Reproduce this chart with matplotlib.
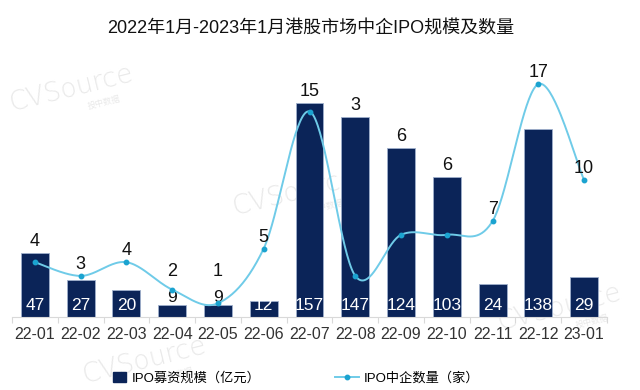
import numpy as np
import matplotlib
matplotlib.use("Agg")
import matplotlib.pyplot as plt
from matplotlib.lines import Line2D
from matplotlib.patches import Patch

plt.rcParams['font.family'] = ['Liberation Sans', 'Noto Sans CJK SC', 'DejaVu Sans']

categories = ["22-01", "22-02", "22-03", "22-04", "22-05", "22-06", "22-07",
              "22-08", "22-09", "22-10", "22-11", "22-12", "23-01"]
ipo_amount = [47, 27, 20, 9, 9, 12, 157, 147, 124, 103, 24, 138, 29]
ipo_count = [4, 3, 4, 2, 1, 5, 15, 3, 6, 6, 7, 17, 10]
title = "2022年1月-2023年1月港股市场中企IPO规模及数量"
bar_label = "IPO募资规模（亿元）"
line_label = "IPO中企数量（家）"

BAR_C = "#0b2458"
LINE_C = "#6fcbe8"
DOT_C = "#1ba3d0"

W, H = 640, 390
fig = plt.figure(figsize=(W / 100, H / 100), dpi=100)

left_px, right_px = 12, 607
base_px, top_px = 317, 60
ax = fig.add_axes([left_px / W, (H - base_px) / H, (right_px - left_px) / W, (base_px - top_px) / H])
ax.set_facecolor("none")
ax2 = ax.twinx()
ax2.set_facecolor("none")

n = len(categories)
x = np.arange(n)
bar_px = 1.363
line_px = 13.7
bar_ylim = (base_px - top_px) / bar_px
line_ylim = (base_px - top_px) / line_px
ax.set_xlim(-0.5, n - 0.5)
ax.set_ylim(0, bar_ylim)
ax2.set_ylim(0, line_ylim)

ax.bar(x, ipo_amount, width=0.61, color=BAR_C, edgecolor="#9fb0cc", linewidth=0.6, zorder=2)

# smooth (Catmull-Rom) curve through the count points
xs, ys = [], []
px = np.concatenate([[x[0]], x, [x[-1]]]).astype(float)
py = np.concatenate([[ipo_count[0]], ipo_count, [ipo_count[-1]]]).astype(float)
t = np.linspace(0, 1, 40)
for i in range(1, len(px) - 2):
    for arr, out in ((px, xs), (py, ys)):
        p0, p1, p2, p3 = arr[i - 1], arr[i], arr[i + 1], arr[i + 2]
        seg = 0.5 * ((2 * p1) + (-p0 + p2) * t + (2 * p0 - 5 * p1 + 4 * p2 - p3) * t ** 2
                     + (-p0 + 3 * p1 - 3 * p2 + p3) * t ** 3)
        out.extend(seg)
ax2.plot(xs, ys, color=LINE_C, lw=1.4, zorder=3)
ax2.plot(x, ipo_count, ls="none", marker="o", ms=3.2, color=DOT_C, zorder=4)

scale = line_ylim / bar_ylim
small = 10
# count labels above bar top / amount label / point, whichever is highest
for i, (c, a) in enumerate(zip(ipo_count, ipo_amount)):
    top = a * scale
    if a < small:
        top += 22 / line_px
    yv = max(c, top)
    ax2.annotate(str(c), (i, yv), xytext=(0, 5), textcoords="offset points",
                 ha="center", va="baseline", fontsize=13, color="#111111", zorder=5)

# amount labels
for i, a in enumerate(ipo_amount):
    if a < small:
        ax.annotate(str(a), (i, a), xytext=(0, 0), textcoords="offset points",
                    ha="center", va="bottom", fontsize=12.5, color="#111111", zorder=5)
    else:
        ax.annotate(str(a), (i, 0), xytext=(0, 8.5), textcoords="offset points",
                    ha="center", va="center", fontsize=12.5, color="white", zorder=5)

for a_ in (ax, ax2):
    for s in ("top", "right", "left"):
        a_.spines[s].set_visible(False)
    a_.set_yticks([])
ax2.spines["bottom"].set_visible(False)
ax.spines["bottom"].set_color("#d9d9d9")
ax.spines["bottom"].set_linewidth(0.8)
ax.set_xticks(x)
ax.set_xticklabels(categories, fontsize=11.5, color="#333333")
ax.tick_params(axis="x", which="major", length=0, pad=7)
ax.set_xticks(np.arange(-0.5, n, 1.0), minor=True)
ax.tick_params(axis="x", which="minor", length=4, color="#d9d9d9", width=0.8)

fig.text(0.485, 1 - 28 / H, title, ha="center", va="center", fontsize=13, color="#111111")

# legends
leg1 = fig.legend([Patch(facecolor=BAR_C, edgecolor=BAR_C)], [bar_label], loc="center left",
                  bbox_to_anchor=(113 / W, 1 - 378 / H), frameon=False, fontsize=9.5,
                  handlelength=1.0, handleheight=0.8, handletextpad=0.4,
                  borderpad=0, borderaxespad=0)
leg2 = fig.legend([Line2D([0], [0], color=LINE_C, lw=1.4, marker="o", ms=3.2,
                          markerfacecolor=DOT_C, markeredgecolor=DOT_C)], [line_label],
                  loc="center left", bbox_to_anchor=(335 / W, 1 - 378 / H), frameon=False,
                  fontsize=9.5, handlelength=1.8, handletextpad=0.4, borderpad=0, borderaxespad=0)

# watermarks (behind everything)
wm = dict(color="#e9e9e9", rotation=14, ha="center", va="center", zorder=-5)
for (cx, cy) in [(72, 88), (295, 192), (145, 360), (560, 307)]:
    fig.text(cx / W, 1 - cy / H, "CVSource", fontsize=19, family="DejaVu Sans",
             fontweight="light", **wm)
    fig.text((cx + 32) / W, 1 - (cy + 14) / H, "投中数据", fontsize=6,
             family="Noto Sans CJK SC", **wm)

fig.savefig("out.png", dpi=100)
